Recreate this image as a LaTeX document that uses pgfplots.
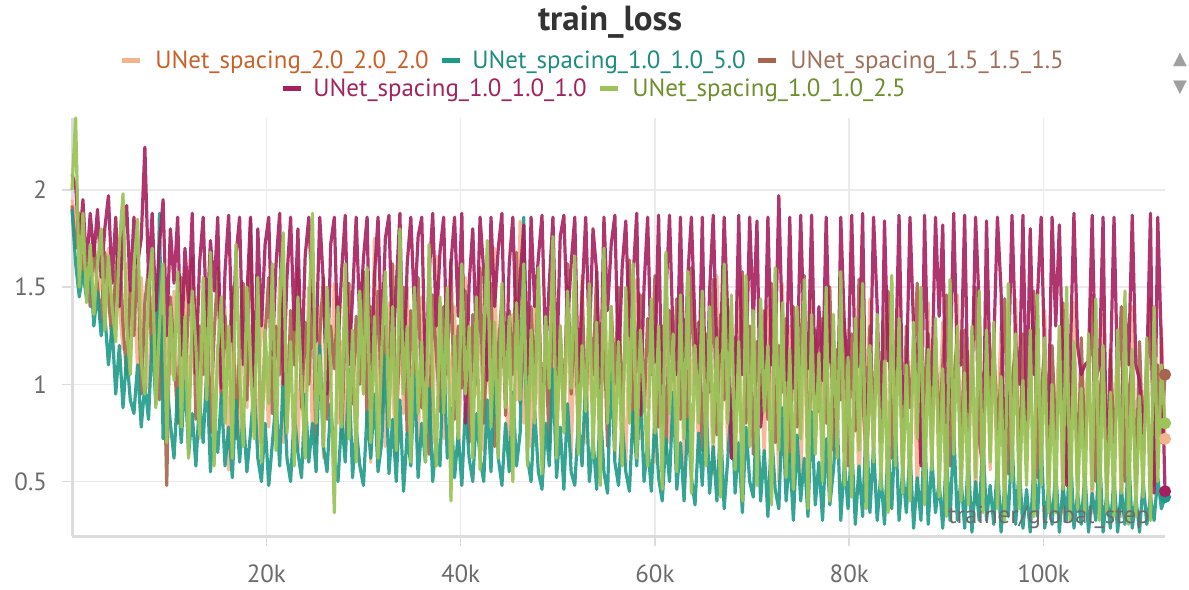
\documentclass[border=0pt]{standalone}
\usepackage{fontspec}
\setmainfont{PT Sans}
\newfontfamily\symfont{DejaVu Sans}
\usepackage{pgfplots}
\usepackage{pgfplotstable}
\pgfplotsset{compat=1.18}

\definecolor{cA}{HTML}{F2B48E}
\definecolor{tA}{HTML}{C8622A}
\definecolor{cB}{HTML}{1F9A8A}
\definecolor{tB}{HTML}{1E8C80}
\definecolor{cC}{HTML}{A8644F}
\definecolor{tC}{HTML}{A0705C}
\definecolor{cD}{HTML}{A61F5E}
\definecolor{tD}{HTML}{A0245E}
\definecolor{cE}{HTML}{9CC45B}
\definecolor{tE}{HTML}{6F8F2F}
\definecolor{gridc}{HTML}{EBEBEB}
\definecolor{axc}{HTML}{DCDCDC}
\definecolor{labc}{HTML}{6B6B6B}

\pgfplotstableread{
x A B C D E
0 1.95 1.90 1.92 2.08 2.00
0.375 1.85 1.62 1.70 2.02 2.37
0.75 1.70 1.45 1.88 1.72 1.50
1.125 1.78 1.58 1.55 1.95 1.88
1.5 1.52 1.44 1.62 1.60 1.42
1.875 1.60 1.62 1.40 1.88 1.72
2.25 1.76 1.30 1.74 1.66 1.36
2.625 1.42 1.48 1.50 1.90 1.62
3 1.58 1.25 1.32 1.55 1.80
3.375 1.35 1.36 1.68 1.80 1.28
3.75 1.70 1.10 1.45 1.97 1.66
4.125 1.28 1.30 1.22 1.52 1.40
4.5 1.55 0.95 1.58 1.86 1.22
4.875 1.40 1.20 1.75 1.40 1.72
5.25 1.18 0.88 1.30 1.78 1.98
5.625 1.62 1.15 1.05 1.92 1.30
6 1.30 0.92 1.50 1.48 1.05
6.375 1.48 0.85 1.25 1.86 1.60
6.75 1.08 1.10 1.68 1.62 1.85
7.125 1.55 0.78 0.95 1.75 1.12
7.5 1.22 1.00 1.42 2.22 0.95
7.875 0.98 0.82 1.60 1.55 1.48
8.25 1.45 1.25 1.12 1.88 1.70
8.625 1.15 0.90 1.52 1.38 0.88
9 1.38 1.88 0.92 1.72 1.30
9.375 0.92 0.72 1.35 1.95 1.62
9.75 1.30 1.02 0.48 1.25 0.70
10.125 1.05 0.80 1.45 1.80 1.40
10.5 1.48 0.62 1.18 1.52 1.02
10.875 0.80 0.98 0.80 1.86 1.58
11.25 1.25 0.70 1.55 1.15 0.78
11.625 1.60 1.05 1.00 1.70 1.35
12 0.86 0.64 1.40 1.42 0.62
12.375 1.18 0.85 1.65 1.88 1.48
12.75 1.45 0.58 0.82 1.05 1.20
13.125 0.72 0.92 1.30 1.62 0.74
13.5 1.35 0.70 1.05 1.86 1.55
13.875 1.02 1.08 1.48 1.30 0.92
14.25 1.52 0.55 0.75 1.74 1.68
14.625 0.62 0.82 1.25 1.48 0.58
15 1.20 0.65 1.60 1.86 1.18
15.375 0.95 0.95 0.90 0.98 1.45
15.75 1.40 0.58 1.35 1.58 0.80
16.125 0.56 0.78 1.08 1.87 1.30
16.5 1.28 0.52 1.50 1.22 0.62
16.875 1.02 0.92 0.72 1.66 1.72
17.25 0.75 0.60 1.20 1.86 1.05
17.625 1.45 0.85 1.52 1.10 0.68
18 0.88 0.55 0.92 1.45 1.50
18.375 1.30 0.75 1.85 1.86 1.10
18.75 1.05 1.00 1.10 0.92 0.72
19.125 0.68 0.62 1.40 1.80 1.55
19.5 1.48 0.50 0.70 1.30 0.60
19.875 1.12 0.80 1.25 1.72 1.28
20.25 0.78 0.48 1.55 1.86 0.90
20.625 1.35 0.70 0.85 1.15 1.62
21 0.95 0.92 1.30 1.62 0.66
21.375 1.55 0.58 1.05 1.88 1.40
21.75 0.70 1.05 1.45 1.00 1.78
22.125 1.20 0.62 0.78 1.55 0.75
22.5 1.02 0.50 1.38 1.86 1.22
22.875 1.42 0.85 1.10 1.28 0.58
23.25 0.66 0.65 1.60 1.80 1.45
23.625 1.25 0.52 0.88 1.05 1.00
24 0.90 0.95 1.32 1.66 0.62
24.375 1.50 0.60 1.00 1.86 1.35
24.75 0.72 0.80 1.48 1.40 1.88
25.125 1.18 0.55 0.70 1.22 0.80
25.5 1.40 1.20 1.25 1.86 1.15
25.875 0.62 0.68 1.55 1.52 0.68
26.25 1.28 0.55 0.82 0.95 1.50
26.625 0.98 0.90 1.30 1.72 1.05
27 1.52 0.62 1.08 1.86 0.34
27.375 0.80 0.50 1.45 1.18 1.40
27.75 1.22 0.82 0.72 1.58 0.78
28.125 0.66 0.60 1.28 1.87 1.62
28.5 1.40 1.08 1.52 1.10 0.72
28.875 1.05 0.52 0.90 1.45 1.28
29.25 0.72 0.78 1.35 1.86 0.60
29.625 1.48 0.58 1.00 1.32 1.48
30 0.95 0.48 1.58 1.65 0.95
30.375 1.25 0.86 0.78 1.86 1.60
30.75 0.60 0.62 1.40 0.88 0.70
31.125 1.75 0.95 1.10 1.55 1.35
31.5 0.88 0.55 1.48 1.86 0.62
31.875 1.30 0.70 0.85 1.20 1.18
32.25 0.68 1.15 1.30 1.75 1.58
32.625 1.42 0.54 1.02 1.87 0.78
33 1.00 0.82 1.62 1.15 1.40
33.375 0.62 0.50 0.80 1.50 0.66
33.75 1.35 0.92 1.25 1.88 1.80
34.125 0.85 0.45 1.50 0.98 0.95
34.5 1.50 0.75 0.74 1.62 1.30
34.875 0.78 0.58 1.38 1.86 0.60
35.25 1.20 1.05 1.05 1.38 1.50
35.625 0.65 0.52 1.55 1.76 0.85
36 1.45 0.80 0.88 1.86 1.22
36.375 0.92 0.60 1.30 1.02 0.60
36.75 1.28 0.98 0.64 1.55 1.72
37.125 0.70 0.50 1.46 1.88 0.98
37.5 1.66 0.72 1.15 1.30 0.58
37.875 1.02 0.58 0.86 1.68 1.45
38.25 0.72 1.18 1.40 1.86 0.85
38.625 1.35 0.62 1.05 1.10 1.50
39 0.90 0.88 1.64 1.62 0.40
39.375 1.40 0.52 0.82 1.86 1.25
39.75 0.64 0.75 1.30 1.35 0.72
40.125 1.18 0.48 0.98 1.88 1.62
40.5 1.55 0.90 1.48 0.80 0.95
40.875 0.75 0.62 0.70 1.52 1.30
41.25 1.30 0.50 1.36 1.80 0.62
41.625 0.95 0.85 1.00 1.20 1.45
42 1.45 0.62 1.60 1.86 0.56
42.375 0.66 0.50 0.80 1.58 1.20
42.75 1.22 0.92 1.25 1.02 1.74
43.125 0.88 0.55 1.52 1.86 0.78
43.5 1.70 1.10 0.68 1.40 1.32
43.875 0.70 0.62 1.18 1.70 0.62
44.25 1.30 0.48 1.44 1.88 1.52
44.625 1.00 0.80 0.84 0.95 0.88
45 0.60 0.55 1.38 1.62 1.35
45.375 1.36 0.96 1.05 1.86 0.50
45.75 0.92 0.58 1.68 1.20 1.42
46.125 1.84 0.75 0.90 1.55 0.92
46.5 0.80 1.86 1.30 1.82 1.62
46.875 1.25 0.62 0.72 1.05 0.58
47.25 0.68 0.50 1.40 1.86 1.28
47.625 1.45 0.86 1.00 1.40 0.80
48 1.00 0.55 1.56 1.65 1.60
48.375 0.62 0.46 0.85 1.87 0.54
48.75 1.32 0.80 1.22 1.15 1.35
49.125 0.90 0.58 0.66 1.52 0.98
49.5 1.58 1.08 1.42 1.86 1.76
49.875 0.72 0.52 1.02 1.05 0.62
50.25 1.20 0.78 1.30 1.76 1.30
50.625 0.95 0.46 0.80 1.87 0.75
51 1.40 0.90 1.62 1.30 1.48
51.375 0.62 0.55 0.95 1.62 0.98
51.75 1.28 0.48 1.36 1.86 1.66
52.125 0.85 0.82 0.70 0.98 0.64
52.5 1.56 0.58 1.48 1.45 1.20
52.875 0.70 1.04 0.88 1.86 0.86
53.25 1.15 0.50 1.35 1.22 1.52
53.625 0.92 0.72 1.05 1.80 0.62
54 1.40 0.46 1.58 1.58 1.32
54.375 0.64 0.88 0.82 0.92 0.48
54.75 1.62 0.55 1.28 1.86 1.70
55.125 0.88 0.44 0.68 1.38 0.80
55.5 1.25 1.12 1.40 1.72 1.40
55.875 0.62 0.60 1.00 1.87 0.66
56.25 1.36 0.48 1.50 1.05 1.22
56.625 0.95 0.80 0.84 1.60 0.58
57 0.58 0.55 1.32 1.84 1.50
57.375 1.30 0.45 1.64 1.25 0.80
57.75 0.82 0.86 0.72 1.55 1.62
58.125 1.54 0.58 1.20 1.88 0.62
58.5 0.72 1.00 1.46 0.84 1.28
58.875 1.18 0.50 0.86 1.50 0.95
59.25 0.88 0.70 1.34 1.86 0.58
59.625 1.42 0.45 1.05 1.10 1.44
60 0.60 0.84 1.56 1.12 0.75
60.375 1.28 0.52 0.78 1.87 1.30
60.75 0.90 0.40 1.30 0.80 0.46
61.125 1.58 0.72 0.64 1.45 1.68
61.5 0.70 0.50 1.38 1.87 0.85
61.875 1.20 0.96 1.02 1.22 1.26
62.25 0.85 0.46 1.44 1.05 0.55
62.625 1.34 0.70 0.82 1.86 1.46
63 0.56 0.40 1.25 1.00 0.72
63.375 1.48 0.82 0.76 1.55 1.58
63.75 0.95 0.52 1.60 1.86 0.44
64.125 1.22 0.38 1.00 1.30 1.20
64.5 0.64 0.75 1.32 0.98 0.80
64.875 1.40 0.48 0.66 1.86 1.48
65.25 0.80 0.94 1.26 0.74 0.58
65.625 1.18 0.44 0.96 1.48 1.40
66 0.54 0.68 1.54 1.87 0.70
66.375 1.56 0.40 0.74 1.15 1.24
66.75 0.88 0.80 1.36 1.18 0.42
67.125 1.25 0.36 0.92 1.86 1.62
67.5 0.66 0.62 1.40 1.35 0.80
67.875 1.32 0.92 0.62 0.62 1.46
68.25 0.95 0.44 1.24 1.02 0.56
68.625 1.48 0.70 1.05 1.87 1.22
69 0.52 0.34 1.58 1.05 0.40
69.375 1.20 0.78 0.80 1.08 1.56
69.75 0.80 0.50 1.30 1.86 0.68
70.125 1.38 0.42 0.64 1.32 1.38
70.5 0.72 0.90 1.22 1.84 0.48
70.875 1.10 0.40 0.90 0.78 1.44
71.25 0.62 0.66 1.38 1.00 0.86
71.625 1.40 0.32 0.82 1.86 1.20
72 0.86 0.76 1.52 1.10 0.38
72.375 1.18 0.46 0.70 1.15 1.60
72.75 0.50 0.36 1.20 1.97 0.66
73.125 1.52 0.88 0.96 1.25 1.42
73.5 0.70 0.40 1.34 1.02 0.52
73.875 1.30 0.64 0.60 1.86 1.18
74.25 0.92 0.30 1.40 0.98 0.46
74.625 1.38 0.74 0.78 1.05 1.40
75 0.48 0.40 1.20 1.87 0.72
75.375 1.16 0.62 1.56 1.20 1.54
75.75 0.80 0.32 0.62 1.08 0.36
76.125 1.46 0.86 1.10 1.87 1.36
76.5 0.68 0.38 1.28 0.95 0.64
76.875 1.22 0.60 0.86 1.40 1.16
77.25 0.90 0.30 1.34 1.02 0.50
77.625 1.36 0.72 0.80 1.86 1.50
78 0.46 0.38 1.50 1.12 0.40
78.375 1.14 0.56 0.66 1.10 1.36
78.75 0.82 0.84 1.18 0.64 0.62
79.125 1.50 0.30 0.92 1.86 1.58
79.5 0.66 0.60 1.32 1.30 0.48
79.875 1.20 0.36 0.58 1.05 1.14
80.25 0.94 0.70 1.26 1.87 0.42
80.625 1.28 0.28 0.76 1.08 1.34
81 0.44 0.58 1.54 1.10 0.66
81.375 1.12 0.32 0.95 1.88 1.52
81.75 0.78 0.82 0.60 0.62 0.36
82.125 1.44 0.34 1.30 0.95 1.20
82.5 0.64 0.68 0.82 1.86 0.60
82.875 1.25 0.30 1.26 1.40 1.36
83.25 0.90 0.54 0.78 0.70 0.46
83.625 1.34 0.28 1.14 1.84 1.12
84 0.42 0.68 1.48 1.12 0.34
84.375 1.10 0.36 0.62 1.20 1.56
84.75 0.80 0.80 1.05 1.08 0.58
85.125 1.48 0.30 1.28 1.87 1.34
85.5 0.62 0.56 0.56 0.90 0.44
85.875 1.18 0.34 1.30 1.02 1.10
86.25 0.88 0.66 0.88 1.86 0.40
86.625 1.26 0.26 1.12 1.28 1.32
87 0.40 0.52 1.52 1.12 0.72
87.375 1.08 0.30 0.60 0.58 1.50
87.75 0.76 0.78 1.00 1.87 0.38
88.125 1.42 0.28 1.26 1.02 1.18
88.5 0.60 0.62 0.80 1.00 0.56
88.875 1.14 0.34 1.24 1.86 1.34
89.25 0.84 0.50 0.76 1.35 0.42
89.625 1.32 0.26 1.10 1.82 1.08
90 0.40 0.64 1.46 0.56 0.32
90.375 1.06 0.30 0.58 1.05 1.54
90.75 0.72 0.76 1.02 1.88 0.64
91.125 1.46 0.30 1.24 1.10 1.30
91.5 0.58 0.52 0.54 1.10 0.40
91.875 1.20 0.26 1.28 1.87 1.06
92.25 0.86 0.62 0.76 0.86 0.38
92.625 1.24 0.24 1.08 1.00 1.30
93 0.38 0.50 1.50 1.86 0.52
93.375 1.04 0.30 0.72 1.40 1.48
93.75 0.74 0.74 0.56 0.54 0.34
94.125 1.40 0.30 1.22 1.84 1.28
94.5 0.56 0.48 0.90 1.05 0.60
94.875 1.16 0.28 1.22 1.20 1.32
95.25 0.80 0.60 0.74 1.86 0.36
95.625 1.30 0.24 1.06 1.48 1.04
96 0.36 0.48 1.44 0.52 0.30
96.375 1.02 0.32 0.54 1.08 1.52
96.75 0.70 0.72 1.00 1.87 0.50
97.125 1.44 0.28 1.20 1.22 1.26
97.5 0.54 0.58 0.52 1.00 0.36
97.875 1.14 0.26 1.26 1.87 1.02
98.25 0.82 0.46 0.70 0.82 0.48
98.625 1.22 0.24 1.04 1.80 1.28
99 0.36 0.58 1.48 1.05 0.32
99.375 1.00 0.32 0.52 1.45 1.46
99.75 0.68 0.70 0.96 1.86 0.48
100.125 1.38 0.26 1.18 1.10 1.24
100.5 0.52 0.46 0.54 0.80 0.34
100.875 1.12 0.28 1.20 1.86 1.00
101.25 0.80 0.56 0.72 1.30 0.34
101.625 1.28 0.24 1.02 1.82 1.30
102 0.34 0.48 1.42 1.05 0.46
102.375 0.98 0.30 0.52 0.48 1.50
102.75 0.66 0.68 0.96 1.15 0.30
103.125 1.42 0.26 1.16 1.88 1.22
103.5 0.50 0.44 0.50 1.20 0.36
103.875 1.10 0.28 1.24 1.05 0.98
104.25 0.78 0.54 0.68 1.10 0.34
104.625 1.20 0.24 1.00 1.12 1.26
105 0.34 0.44 1.46 1.87 0.46
105.375 0.96 0.30 0.50 1.02 1.44
105.75 0.64 0.66 0.92 1.10 0.30
106.125 1.36 0.24 1.14 1.86 1.20
106.5 0.50 0.44 0.52 0.46 0.34
106.875 1.08 0.26 1.18 1.05 0.96
107.25 0.76 0.52 0.70 1.86 0.32
107.625 1.26 0.24 0.98 1.00 1.28
108 0.32 0.46 1.40 0.76 0.44
108.375 0.94 0.28 0.50 1.40 1.48
108.75 0.62 0.64 0.94 1.10 0.28
109.125 1.40 0.26 1.12 1.87 1.18
109.5 0.48 0.42 0.48 1.10 0.32
109.875 1.06 0.24 1.22 1.02 0.94
110.25 0.74 0.50 0.66 0.74 0.42
110.625 1.18 0.28 0.96 1.08 1.24
111 0.32 0.42 1.44 1.88 0.30
111.375 0.92 0.30 0.48 0.44 1.40
111.75 0.60 0.52 1.10 1.86 0.50
112.125 1.30 0.36 0.70 1.20 1.10
112.5 0.72 0.42 1.05 0.45 0.80
}\losstable

\begin{document}
\begin{tikzpicture}[x=1bp,y=1bp]
\path[use as bounding box] (0,0) rectangle (594.5,294.5);
% title
\node[font=\fontsize{17.5}{19}\selectfont\bfseries, text=black!80] at (305,283.5) {train\_loss};
% legend
\begin{scope}[every node/.style={inner sep=0pt, anchor=base west, font=\fontsize{12.5}{14}\selectfont}]
\draw[cA, line width=2.5bp] (61,264.5) -- (70,264.5);
\node[text=tA] at (77.5,260.5) {UNet\_spacing\_2.0\_2.0\_2.0};
\draw[cB, line width=2.5bp] (221,264.5) -- (230,264.5);
\node[text=tB] at (236,260.5) {UNet\_spacing\_1.0\_1.0\_5.0};
\draw[cC, line width=2.5bp] (379,264.5) -- (388,264.5);
\node[text=tC] at (395,260.5) {UNet\_spacing\_1.5\_1.5\_1.5};
\draw[cD, line width=2.5bp] (141.5,250.5) -- (150.5,250.5);
\node[text=tD] at (156.5,246.5) {UNet\_spacing\_1.0\_1.0\_1.0};
\draw[cE, line width=2.5bp] (300,250.5) -- (309,250.5);
\node[text=tE] at (316,246.5) {UNet\_spacing\_1.0\_1.0\_2.5};
\end{scope}
\node[text=gray!75, font=\symfont\fontsize{9}{10}\selectfont] at (590,264.5) {▲};
\node[text=gray!75, font=\symfont\fontsize{9}{10}\selectfont] at (590,250.5) {▼};
\begin{axis}[
  at={(36bp,26.5bp)}, anchor=south west,
  scale only axis, width=546.5bp, height=209bp,
  xmin=0, xmax=112.5, ymin=0.22, ymax=2.37,
  axis x line*=bottom, axis y line*=left,
  axis line style={draw=axc, line width=1.5bp, -},
  xtick={20,40,60,80,100}, xticklabels={20k,40k,60k,80k,100k},
  ytick={0.5,1,1.5,2}, yticklabels={0.5,1,1.5,2},
  grid=major, major grid style={draw=gridc, line width=0.8bp},
  tick style={draw=axc, line width=0.8bp}, major tick length=5bp, tick align=outside,
  ticklabel style={text=labc, font=\fontsize{12.5}{14}\selectfont},
  xticklabel style={yshift=-6bp},
  yticklabel style={xshift=-4bp},
  clip=false,
  every axis plot/.append style={line width=1.6bp, line join=round, opacity=0.9},
]
\addplot[cA, no markers] table[x=x, y=A] {\losstable};
\addplot[cC, no markers] table[x=x, y=C] {\losstable};
\addplot[cB, no markers] table[x=x, y=B] {\losstable};
\addplot[cD, no markers] table[x=x, y=D] {\losstable};
\addplot[cE, no markers, opacity=0.95] table[x=x, y=E] {\losstable};
\addplot[only marks, mark=*, mark size=2.2bp, cA, opacity=1] coordinates {(112.5,0.72)};
\addplot[only marks, mark=*, mark size=2.2bp, cB, opacity=1] coordinates {(112.5,0.42)};
\addplot[only marks, mark=*, mark size=2.2bp, cC, opacity=1] coordinates {(112.5,1.05)};
\addplot[only marks, mark=*, mark size=2.2bp, cD, opacity=1] coordinates {(112.5,0.45)};
\addplot[only marks, mark=*, mark size=2.2bp, cE, opacity=1] coordinates {(112.5,0.80)};
\end{axis}
% x label, over the lines as in the reference
\node[text=labc, font=\fontsize{12.5}{14}\selectfont, anchor=east, inner sep=0pt] at (575,36) {trainer/global\_step};
\end{tikzpicture}
\end{document}
